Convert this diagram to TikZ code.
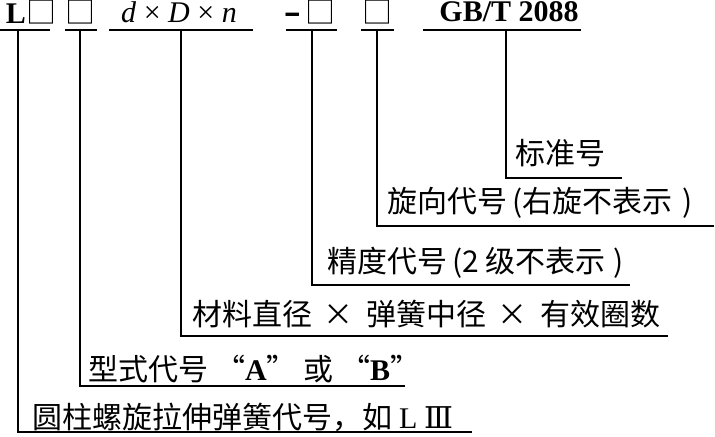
\documentclass[tikz,border=0pt]{standalone}
\usepackage{fontspec}
\setmainfont{Liberation Serif}
\newfontfamily\cjk{Noto Sans CJK SC}
\newfontfamily\luoma{DejaVu Serif}

\begin{document}
\begin{tikzpicture}[
        x=0.5pt, y=-0.5pt,
        daihao/.style={font=\fontsize{15}{17}\selectfont, inner sep=0pt},
        shuoming/.style={font=\cjk\fontsize{15}{17}\selectfont, anchor=west, inner sep=0pt},
        xian/.style={line width=1pt}
    ]
        \useasboundingbox (0,0) rectangle (715,436);

        % top row of codes
        \node[daihao] (dL) at (31,12) {\textbf{L}{\cjk □}};
        \node[daihao] (dxs) at (80,12) {{\cjk □}};
        \node[daihao] (dcc) at (179,12) {\textit{d} × \textit{D} × \textit{n}};
        \node[daihao] (djd) at (310,12) {{\cjk\bfseries –}\,{\cjk □}};
        \node[daihao] (dxx) at (377,12) {{\cjk □}};
        \node[daihao] (dbz) at (509,12) {\textbf{GB/T 2088}};

        % underlines
        \draw[xian] (0,30) -- (50,30);
        \draw[xian] (65,30) -- (97,30);
        \draw[xian] (109,30) -- (253,30);
        \draw[xian] (286,30) -- (337,30);
        \draw[xian] (361,30) -- (394,30);
        \draw[xian] (423,30) -- (581,30);

        % explanations
        \node[shuoming] (sbz) at (515,153) {标准号};
        \node[shuoming] (sxx) at (387,203) {旋向代号\,(右旋不表示\hspace{5pt})};
        \node[shuoming] (sjd) at (327,263) {精度代号\,(2 级不表示\hspace{4pt})};
        \node[shuoming] (scc) at (192,314) {材料直径\hspace{5.5pt}×\hspace{6.5pt}弹簧中径\hspace{5.5pt}×\hspace{6.5pt}有效圈数};
        \node[shuoming] (sxs) at (88,369) {型式代号 “{\rmfamily\bfseries A}” 或 “{\rmfamily\bfseries B}”};
        \node[shuoming] (sL) at (32,417) {圆柱螺旋拉伸弹簧代号，如 {\rmfamily L} {\luoma Ⅲ}};

        \coordinate (tL) at (18,30);
        \coordinate (txs) at (80,30);
        \coordinate (tcc) at (181,30);
        \coordinate (tjd) at (312,30);
        \coordinate (txx) at (377,30);
        \coordinate (tbz) at (506,30);

        \coordinate (eL) at (472,432);
        \coordinate (exs) at (405,386);
        \coordinate (ecc) at (668,336);
        \coordinate (ejd) at (630,285);
        \coordinate (exx) at (714,226);
        \coordinate (ebz) at (622,178);

        \draw[xian] (tbz) |- (ebz);
        \draw[xian] (txx) |- (exx);
        \draw[xian] (tjd) |- (ejd);
        \draw[xian] (tcc) |- (ecc);
        \draw[xian] (txs) |- (exs);
        \draw[xian] (tL) |- (eL);
    \end{tikzpicture}
\end{document}
